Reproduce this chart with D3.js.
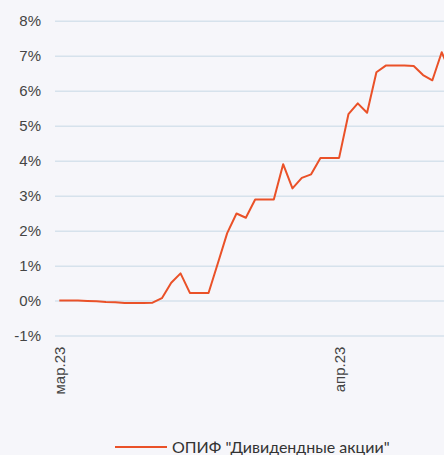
<!DOCTYPE html>
<html>
<head>
<meta charset="utf-8">
<script src="https://cdn.jsdelivr.net/npm/d3@7"></script>
<style>
  body { margin: 0; background: #f6f6fa; }
  svg { display: block; font-family: Lato, "Noto Sans", sans-serif; }
</style>
</head>
<body>
<div id="chart"></div>
<script>
// daily values, weekends carry the friday value
const dates = [
  "2023-03-03","2023-03-04","2023-03-05","2023-03-06","2023-03-07","2023-03-08","2023-03-09",
  "2023-03-10","2023-03-11","2023-03-12","2023-03-13","2023-03-14","2023-03-15","2023-03-16",
  "2023-03-17","2023-03-18","2023-03-19","2023-03-20","2023-03-21","2023-03-22","2023-03-23",
  "2023-03-24","2023-03-25","2023-03-26","2023-03-27","2023-03-28","2023-03-29","2023-03-30",
  "2023-03-31","2023-04-01","2023-04-02","2023-04-03","2023-04-04","2023-04-05","2023-04-06",
  "2023-04-07","2023-04-08","2023-04-09","2023-04-10","2023-04-11","2023-04-12","2023-04-13",
  "2023-04-14"
];
const fundValues = [
  0, 0, 0, -0.01, -0.02, -0.04, -0.05,
  -0.07, -0.07, -0.07, -0.06, 0.07, 0.51, 0.78,
  0.22, 0.22, 0.22, 1.07, 1.93, 2.49, 2.37,
  2.89, 2.89, 2.89, 3.90, 3.21, 3.51, 3.61,
  4.08, 4.08, 4.08, 5.33, 5.64, 5.37, 6.53,
  6.72, 6.72, 6.72, 6.71, 6.45, 6.30, 7.10,
  6.50
];
const seriesName = 'ОПИФ "Дивидендные акции"';
const tickDates = ["2023-03-03", "2023-04-02"];
const tickLabels = ["мар.23", "апр.23"];
const yTicks = [-1, 0, 1, 2, 3, 4, 5, 6, 7, 8];

const width = 444,
    height = 455,
    margin = ({ top: 21, right: 0, bottom: 119, left: 55 });

const parse = d3.timeParse("%Y-%m-%d");
const data = dates.map((d, i) => ({ date: parse(d), value: fundValues[i] }));

const svg = d3.select("#chart")
  .append("svg")
  .attr("width", width)
  .attr("height", height);

svg.append("rect")
  .attr("width", width)
  .attr("height", height)
  .attr("fill", "#f6f6fa");

// plot runs past the right edge - the picture is cut there
let x = d3.scaleTime()
    .domain([parse("2023-03-03"), parse("2023-04-13")])
    .range([59.3, 441.7]);

let y = d3.scaleLinear()
    .domain([-1, 8])
    .range([height - 119.4, margin.top - 0.2]);

// grid + y labels
const yAxis = svg.append("g")
  .attr("transform", `translate(${margin.left},0)`)
  .call(d3.axisLeft(y).tickValues(yTicks).tickSize(-(width - margin.left)).tickFormat(d => d + "%"));

yAxis.select(".domain").remove();
yAxis.selectAll(".tick line")
  .attr("stroke", "#d6e2ec")
  .attr("stroke-width", 1.5);
yAxis.selectAll(".tick text")
  .attr("x", -14)
  .attr("fill", "#444")
  .attr("font-size", 15)
  .text(d => (d < 0 ? "-" : "") + Math.abs(d) + "%");

// x labels, rotated
const tickMap = new Map(tickDates.map((d, i) => [d, tickLabels[i]]));
const xAxis = svg.append("g")
  .attr("transform", `translate(0,${y(-1)})`)
  .call(d3.axisBottom(x).tickValues(tickDates.map(parse)).tickSize(0)
    .tickFormat(d => tickMap.get(d3.timeFormat("%Y-%m-%d")(d))));

xAxis.select(".domain").remove();
xAxis.selectAll(".tick text")
  .attr("transform", "rotate(-90)")
  .attr("text-anchor", "end")
  .attr("x", -11)
  .attr("y", 0)
  .attr("dy", "0.35em")
  .attr("dx", 0)
  .attr("fill", "#444")
  .attr("font-size", 15);

// the line
let line = d3.line()
    .x(d => x(d.date))
    .y(d => y(d.value));

svg.append("path")
  .datum(data)
  .attr("d", line)
  .attr("fill", "none")
  .attr("stroke", "#ea5128")
  .attr("stroke-width", 2)
  .attr("stroke-linejoin", "round");

// legend
const legend = svg.append("g")
  .attr("transform", "translate(115,447)");

legend.append("line")
  .attr("x1", 0)
  .attr("x2", 52)
  .attr("stroke", "#ea5128")
  .attr("stroke-width", 2);

legend.append("text")
  .attr("x", 57)
  .attr("dy", "0.35em")
  .attr("fill", "#333")
  .attr("font-size", 16)
  .text(seriesName);
</script>
</body>
</html>
